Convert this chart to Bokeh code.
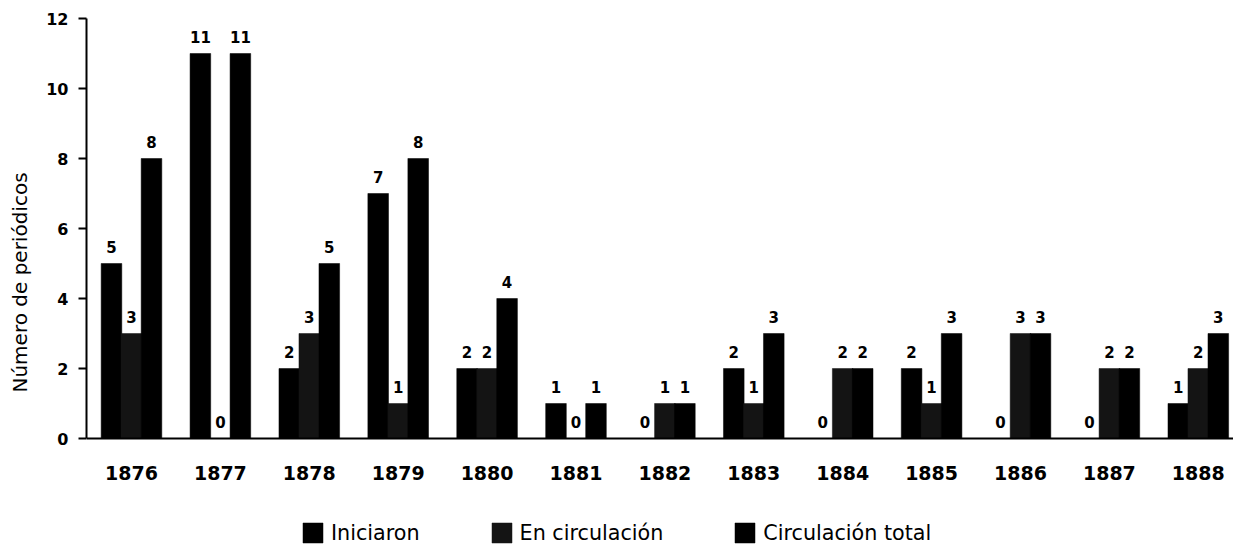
from bokeh.plotting import figure
from bokeh.models import ColumnDataSource, FixedTicker, Legend, LegendItem
from bokeh.transform import dodge
from bokeh.core.properties import value
from bokeh.embed import file_html
from bokeh.resources import INLINE

# ---- data ----
years = [1876, 1877, 1878, 1879, 1880, 1881, 1882, 1883, 1884, 1885, 1886, 1887, 1888]
iniciaron = [5, 11, 2, 7, 2, 1, 0, 2, 0, 2, 0, 0, 1]
en_circulacion = [3, 0, 3, 1, 2, 0, 1, 1, 2, 1, 3, 2, 2]
circulacion_total = [8, 11, 5, 8, 4, 1, 1, 3, 2, 3, 3, 2, 3]
series_names = ["Iniciaron", "En circulación", "Circulación total"]
y_ticks = [0, 2, 4, 6, 8, 10, 12]

FONT = "DejaVu Sans"
OFF = 0.225
BW = 0.232

src = ColumnDataSource(dict(
    year=years,
    ini=iniciaron, enc=en_circulacion, tot=circulacion_total,
    ini_t=[str(v) for v in iniciaron],
    enc_t=[str(v) for v in en_circulacion],
    tot_t=[str(v) for v in circulacion_total],
))

# frame extends below the zero line so the legend can sit inside it
p = figure(frame_width=1147, frame_height=528,
           x_range=(1875.494, 1888.396), y_range=(-3.0857, 12),
           output_backend="svg", toolbar_location=None,
           min_border_left=86, min_border_top=18, min_border_bottom=0, min_border_right=0)
p.background_fill_color = "white"
p.border_fill_color = "white"
p.outline_line_color = None
p.xgrid.visible = False
p.ygrid.visible = False

cols = ["#000000", "#141414", "#000000"]
fields = ["ini", "enc", "tot"]
offs = [-OFF, 0.0, OFF]
renderers = []
for f, o, c in zip(fields, offs, cols):
    r = p.vbar(x=dodge("year", o), top=f, width=BW, bottom=0, source=src,
               fill_color=c, line_color=c, line_width=0.5)
    renderers.append(r)
    p.text(x=dodge("year", o), y=f, text=f + "_t", source=src,
           text_align="center", text_baseline="alphabetic", y_offset=-17,
           text_font=value(FONT), text_font_size="15px", text_font_style="bold",
           text_color="black")

# x axis, pinned at y = 0
p.xaxis.fixed_location = 0
p.xaxis.ticker = FixedTicker(ticks=years)
p.xaxis.major_tick_out = 0
p.xaxis.major_tick_in = 0
p.xaxis.minor_tick_out = 0
p.xaxis.minor_tick_in = 0
p.xaxis.axis_line_width = 2
p.xaxis.axis_line_color = "black"
p.xaxis.major_label_text_font = FONT
p.xaxis.major_label_text_font_size = "19px"
p.xaxis.major_label_text_font_style = "bold"
p.xaxis.major_label_text_color = "black"
p.xaxis.major_label_standoff = 27

# y axis
p.yaxis.bounds = (0, 12)
p.yaxis.ticker = FixedTicker(ticks=y_ticks)
p.yaxis.major_tick_out = 8
p.yaxis.major_tick_in = 0
p.yaxis.minor_tick_out = 0
p.yaxis.minor_tick_in = 0
p.yaxis.major_tick_line_width = 2
p.yaxis.major_tick_line_color = "black"
p.yaxis.axis_line_width = 2
p.yaxis.axis_line_color = "black"
p.yaxis.major_label_text_font = FONT
p.yaxis.major_label_text_font_size = "16px"
p.yaxis.major_label_text_font_style = "bold"
p.yaxis.major_label_text_color = "black"
p.yaxis.major_label_standoff = 10
p.yaxis.axis_label = "Número de periódicos"
p.yaxis.axis_label_text_font = FONT
p.yaxis.axis_label_text_font_size = "20px"
p.yaxis.axis_label_text_font_style = "normal"
p.yaxis.axis_label_text_color = "black"
p.yaxis.axis_label_standoff = 11

legend = Legend(
    items=[LegendItem(label=n, renderers=[r]) for n, r in zip(series_names, renderers)],
    location=(214, 1), orientation="horizontal",
    glyph_width=25, glyph_height=25, label_standoff=6, spacing=69,
    label_text_font=FONT, label_text_font_size="20.7px", label_text_color="black",
    padding=0, margin=0, border_line_color=None, background_fill_alpha=0,
)
p.add_layout(legend)

open("out.html", "w").write(file_html(p, INLINE))
